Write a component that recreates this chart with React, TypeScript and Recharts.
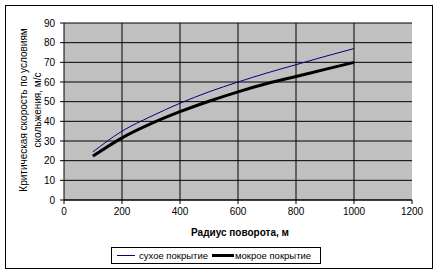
import { LineChart, Line, XAxis, YAxis, CartesianGrid } from 'recharts'

// ── Data ─────────────────────────────────────────────────────────────────

const radius = [100, 200, 300, 400, 500, 600, 700, 800, 900, 1000]
const dryValues = [24.5, 35, 42.5, 49.2, 55, 60, 64.6, 68.8, 73, 77]
const wetValues = [22.3, 31.6, 38.8, 44.9, 50.2, 55, 59.2, 62.8, 66.4, 70]
const xTicks = [0, 200, 400, 600, 800, 1000, 1200]
const yTicks = [0, 10, 20, 30, 40, 50, 60, 70, 80, 90]
const seriesNames = ['сухое покрытие', 'мокрое покрытие']
const xTitle = 'Радиус поворота, м'
const yTitle = ['Критическая скорость по условиям', 'скольжения, м/с']

const data = radius.map((r, i) => ({ r, dry: dryValues[i], wet: wetValues[i] }))
const X_MAX = xTicks[xTicks.length - 1]

// ── Styles ───────────────────────────────────────────────────────────────

const FONT = '"Liberation Sans", Arial, sans-serif'
const TICK_STYLE = { fontSize: 10, fill: '#000', fontFamily: FONT }
const DRY_COLOR = '#000080'
const WET_COLOR = '#000000'

export default function App() {
  return (
    <div style={{ position: 'absolute', left: 0, top: 0, width: 438, height: 273, background: '#fff', fontFamily: FONT }}>
      <div style={{ position: 'absolute', left: 5, top: 5, width: 426, height: 262, border: '1px solid #000' }} />

      <LineChart
        width={438} height={273} data={data}
        margin={{ top: 23, right: 26, bottom: 43, left: 0 }}
        style={{ position: 'absolute', left: 0, top: 0 }}
      >
        <CartesianGrid
          fill="#c0c0c0" fillOpacity={1} stroke="#000" strokeOpacity={1}
          verticalCoordinatesGenerator={({ offset }: any) =>
            xTicks.slice(1, -1).map((t) => offset.left + (t / X_MAX) * offset.width)}
        />
        <XAxis
          dataKey="r" type="number" domain={[0, X_MAX]} ticks={xTicks} interval={0}
          height={30} tickSize={4} tickMargin={4} tick={TICK_STYLE}
          axisLine={{ stroke: '#000' }} tickLine={{ stroke: '#000' }}
        />
        <YAxis
          type="number" domain={[0, 90]} ticks={yTicks} interval={0}
          width={64} tickSize={4} tickMargin={5} tick={TICK_STYLE}
          axisLine={{ stroke: '#000' }} tickLine={{ stroke: '#000' }}
        />
        <Line
          type="monotone" dataKey="dry" name={seriesNames[0]} stroke={DRY_COLOR}
          strokeWidth={1} dot={false} isAnimationActive={false}
        />
        <Line
          type="monotone" dataKey="wet" name={seriesNames[1]} stroke={WET_COLOR}
          strokeWidth={3} dot={false} isAnimationActive={false}
        />
      </LineChart>

      {/* axis titles */}
      <div style={{ position: 'absolute', left: 140, top: 227, width: 200, textAlign: 'center', fontSize: 10, fontWeight: 'bold' }}>
        {xTitle}
      </div>
      <div style={{
        position: 'absolute', left: 31, top: 110, width: 200, fontSize: 10, lineHeight: '14px',
        textAlign: 'center', transform: 'translate(-100px, -14px) rotate(-90deg)', transformOrigin: '100px 14px',
        whiteSpace: 'nowrap',
      }}>
        <div>{yTitle[0]}</div>
        <div>{yTitle[1]}</div>
      </div>

      {/* legend */}
      <div style={{
        position: 'absolute', left: 111, top: 247, width: 208, height: 15, border: '1px solid #000',
        display: 'flex', alignItems: 'center', fontSize: 9.5, whiteSpace: 'nowrap', overflow: 'hidden',
      }}>
        <div style={{ width: 18, height: 1, background: DRY_COLOR, marginLeft: 5, marginRight: 4, flexShrink: 0 }} />
        <span>{seriesNames[0]}</span>
        <div style={{ width: 22, height: 3, background: WET_COLOR, marginLeft: 4, marginRight: 1, flexShrink: 0 }} />
        <span>{seriesNames[1]}</span>
      </div>
    </div>
  )
}
